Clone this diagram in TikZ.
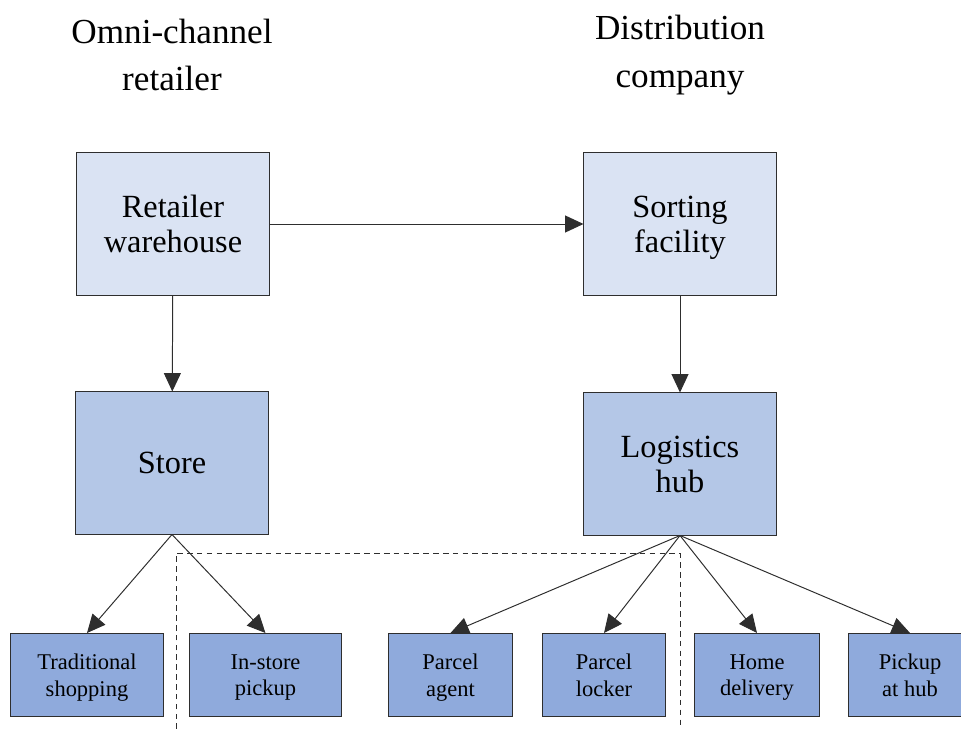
\documentclass[tikz,border=0pt]{standalone}
\usepackage{fontspec}
\setmainfont{Liberation Serif}
\usetikzlibrary{arrows.meta}

\definecolor{paleblue}{HTML}{DAE3F3}
\definecolor{midblue}{HTML}{B4C7E7}
\definecolor{deepblue}{HTML}{8FAADC}
\definecolor{edge}{HTML}{2E2E2E}

\tikzset{
    > = {Triangle[length=13pt,width=12pt]},
    title/.style={align=center, font=\fontsize{25}{34}\selectfont},
    bigbox/.style={draw=edge, align=center, minimum width=4.8cm, minimum height=3.55cm,
        inner sep=0pt, text depth=0pt, font=\fontsize{23}{25}\selectfont},
    topbox/.style={bigbox, fill=paleblue},
    midbox/.style={bigbox, fill=midblue},
    leafbox/.style={draw=edge, fill=deepblue, align=center, minimum height=2.075cm,
        inner sep=0pt, text depth=0pt, font=\fontsize{16}{19}\selectfont},
    link/.style={->, draw=edge},
}

\begin{document}
\begin{tikzpicture}[x=0.025cm, y=-0.025cm, line width=0.7pt]
    \useasboundingbox (0,0) rectangle (961,729);
    \clip (0,0) rectangle (961,729);

    % column titles
    \node[title] (ttl1) at (172,55) {Omni-channel\\retailer};
    \node[title] (ttl2) at (680,55) {Distribution\\company};

    % upper boxes
    \node[topbox] (wh) at (173,224) {Retailer\\warehouse};
    \node[topbox] (sort) at (680,224) {Sorting\\facility};
    \node[midbox] (store) at (172,463) {Store};
    \node[midbox] (hub) at (680,464) {Logistics\\hub};

    % channels
    \node[leafbox, minimum width=3.8cm] (trad) at (87,675) {Traditional\\shopping};
    \node[leafbox, minimum width=3.8cm] (instore) at (265.5,675) {In-store\\pickup};
    \node[leafbox, minimum width=3.12cm] (agent) at (450.5,675) {Parcel\\agent};
    \node[leafbox, minimum width=3.05cm] (locker) at (604,675) {Parcel\\locker};
    \node[leafbox, minimum width=3.1cm] (home) at (757,675) {Home\\delivery};
    \node[leafbox, minimum width=3.1cm] (pickup) at (910,675) {Pickup\\at hub};

    \draw[link] (wh) -- (sort);
    \draw[link] (wh) -- (store);
    \draw[link] (sort) -- (hub);
    \draw[link] (store.south) -- (trad.north);
    \draw[link] (store.south) -- (instore.north);
    \draw[link] (hub.south) -- (agent.north);
    \draw[link] (hub.south) -- (locker.north);
    \draw[link] (hub.south) -- (home.north);
    \draw[link] (hub.south) -- (pickup.north);

    % dashed frame round the shared pickup options
    \draw[dash pattern=on 4pt off 3pt, draw=edge] (176,729) |- (680,553) -- (680,729);
\end{tikzpicture}
\end{document}
